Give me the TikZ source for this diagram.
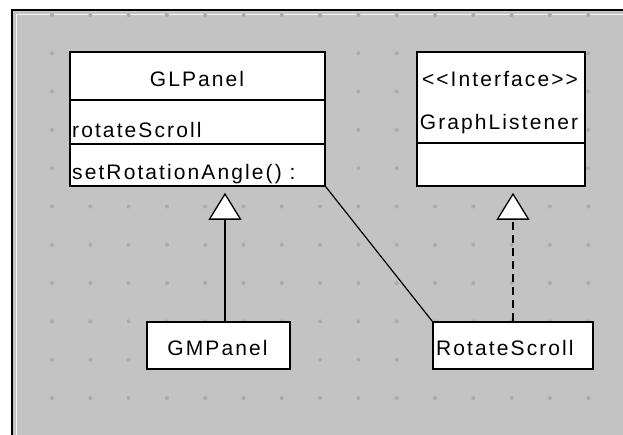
\documentclass[tikz,border=0pt]{standalone}
\usepackage{fontspec}
\setmainfont{Liberation Sans}
\newfontfamily\umlfont{Liberation Sans}[LetterSpace=10]
\usetikzlibrary{arrows.meta}
\definecolor{canvas}{HTML}{C3C3C3}
\definecolor{griddot}{HTML}{ABABAB}
\tikzset{
  classbox/.style={draw=black, fill=white, line width=1.6pt, inner sep=0pt},
  divider/.style={draw=black, line width=1.4pt},
  label/.style={inner sep=0pt, font=\umlfont\fontsize{21}{25}\selectfont},
  generalization/.style={line width=1.3pt, shorten >=6pt,
    -{Triangle[length=27pt, width=33pt, fill=white, line width=1.3pt]}},
  realization/.style={generalization, dash pattern=on 8pt off 5pt},
  association/.style={line width=1.2pt}
}
\begin{document}
\begin{tikzpicture}[x=1pt, y=-1pt]
  \useasboundingbox (0,0) rectangle (623,435);
  % diagram canvas with its frame
  \fill[white] (0,0) rectangle (623,435);
  \fill[canvas] (12,10) rectangle (623,435);
  \draw[line width=1.5pt] (12,440) -- (12,10) -- (630,10);
  \draw[white!85!canvas, line width=0.8pt] (16.5,435) -- (16.5,14.5) -- (623,14.5);
  % grid of dots
  \foreach \i in {0,...,14}
    \foreach \j in {0,...,10}
      \fill[griddot] (52+38.3*\i, 15+38.3*\j) circle (2pt);

  % class GLPanel
  \node[classbox, minimum width=255pt, minimum height=134pt] (glp) at (197.5,119) {};
  \draw[divider] (glp.west |- 0,100) -- (glp.east |- 0,100);
  \draw[divider] (glp.west |- 0,144) -- (glp.east |- 0,144);
  \node[label, anchor=base] (glpname) at (197,87) {GLPanel};
  \node[label, anchor=base west] (glpattr) at (72,138) {rotateScroll};
  \node[label, anchor=base west] (glpop) at (72,180) {setRotationAngle() :};

  % interface GraphListener
  \node[classbox, minimum width=168pt, minimum height=134pt] (gl) at (501,119) {};
  \draw[divider] (gl.west |- 0,143) -- (gl.east |- 0,143);
  \node[label, anchor=base] (glstereo) at (500,87) {<{}<Interface>{}>};
  \node[label, anchor=base] (glname) at (499,130) {GraphListener};

  % class GMPanel
  \node[classbox, minimum width=143pt, minimum height=47pt] (gm) at (218.5,345.5) {};
  \node[label, anchor=base] (gmname) at (217.5,355) {GMPanel};

  % class RotateScroll
  \node[classbox, minimum width=160pt, minimum height=47pt] (rs) at (513,345.5) {};
  \node[label, anchor=base west] (rsname) at (436,355) {RotateScroll};

  % relations
  \draw[generalization] ([xshift=6.5pt]gm.north) -- ([xshift=27.5pt]glp.south);
  \draw[realization] (rs.north) -- ([xshift=12pt]gl.south);
  \draw[association] (glp.south east) -- (rs.north west);
\end{tikzpicture}
\end{document}
